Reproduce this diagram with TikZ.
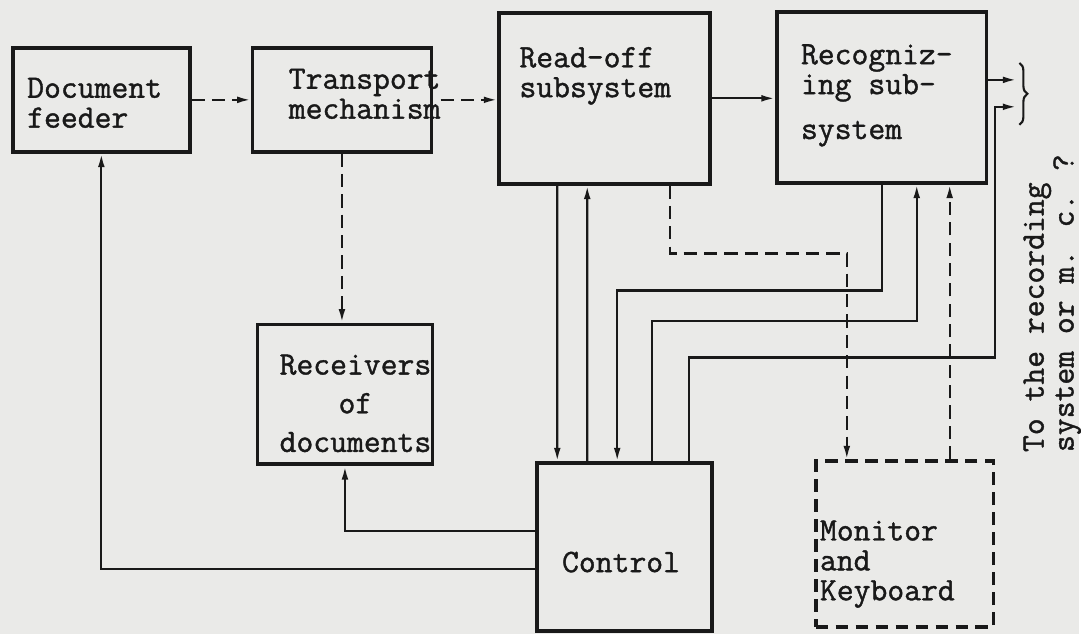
\documentclass[tikz,border=0pt]{standalone}
\usepackage{fontspec}
\newfontfamily\typewriter[FakeBold=1.2]{Latin Modern Mono}
\usetikzlibrary{arrows.meta,decorations.pathreplacing}
\definecolor{paper}{RGB}{234,234,232}
\definecolor{ink}{RGB}{25,25,25}

\begin{document}
\begin{tikzpicture}[x=0.025cm,y=-0.025cm,
    box/.style={draw=ink,line width=2.6pt,inner sep=0pt},
    dbox/.style={box,dash pattern=on 3.2mm off 1.8mm},
    txt/.style={inner sep=0pt,align=left,text=ink,font=\typewriter\fontsize{23.3}{21.3}\selectfont},
    flow/.style={-{Latex[length=3.4mm,width=1.7mm]},line width=1.6pt,draw=ink},
    dflow/.style={flow,dash pattern=on 3.3mm off 1.8mm}
  ]
  \fill[paper] (0,0) rectangle (1081,635);
  % blocks
  \node[box,minimum width=4.425cm,minimum height=2.6cm] (feeder) at (101.5,100) {};
  \node[box,minimum width=4.475cm,minimum height=2.6cm] (transport) at (342.5,100) {};
  \node[box,minimum width=5.275cm,minimum height=4.275cm] (readoff) at (605.5,98.5) {};
  \node[box,minimum width=5.25cm,minimum height=4.275cm] (recog) at (883,97.5) {};
  \node[box,minimum width=4.375cm,minimum height=3.5cm] (receivers) at (345.5,395) {};
  \node[box,minimum width=4.375cm,minimum height=4.2cm] (control) at (625.5,548) {};
  \node[dbox,minimum width=4.45cm,minimum height=4.15cm] (monitor) at (906,545) {};
  % texts
  \node[txt,anchor=west] (feedertxt) at (27,103) {Document\\feeder};
  \node[txt,anchor=west] (transporttxt) at (289,94) {Transport\\mechanism};
  \node[txt,anchor=west] (readofftxt) at (520,76) {Read-off\\subsystem};
  \node[txt,anchor=west] (recogtxt) at (802,95.5) {Recogniz-\\ing sub-\\[0.375cm]system};
  \node[txt,align=center] (receiverstxt) at (356,404) {Receivers\\[0.22cm]of\\[0.22cm]documents};
  \node[txt] (controltxt) at (622,563) {Control};
  \node[txt,anchor=west] (monitortxt) at (821,565) {Monitor\\and\\Keyboard};
  \node[txt,rotate=90,anchor=west] (desttxt) at (1054,453) {To the recording\\system or m. c. ?};
  % outputs
  \coordinate (out1) at (1018,80);
  \coordinate (out2) at (1018,107);
  \draw[ink,line width=1.5pt,decorate,decoration={brace,amplitude=0.2cm}] (1021,63) -- (1021,125);
  % connectors
  \draw[dflow] (feeder) -- (transport);
  \draw[dflow] (transporttxt.east |- transport.east) -- (transport.east -| readoff.west);
  \draw[dflow] (transport.south) -- (transport.south |- receivers.north);
  \draw[flow] (readoff.east) -- (readoff.east -| recog.west);
  \draw[flow] (recog.east |- out1) -- (out1);
  \draw[flow] ([xshift=1.5cm]readoff.south west) -- ([xshift=0.55cm]control.north west);
  \draw[flow] ([xshift=1.3cm]control.north west) -- ([xshift=2.25cm]readoff.south west);
  \draw[dflow] ([xshift=4.325cm]readoff.south west) -- ++(0,68) -| ([xshift=0.825cm]monitor.north west);
  \draw[flow] ([xshift=2.675cm]recog.south west) -- ++(0,106) -| ([xshift=2.05cm]control.north west);
  \draw[flow] ([xshift=2.925cm]control.north west) -- ++(0,-141) -| ([xshift=3.55cm]recog.south west);
  \draw[flow] ([xshift=3.85cm]control.north west) -- ++(0,-104) -- ++(306,0) |- (out2);
  \draw[dflow] ([xshift=3.4cm]monitor.north west) -- ([xshift=3.4cm]monitor.north west |- recog.south);
  \draw[flow] ([yshift=0.4cm]control.west) -| (receivers.south);
  \draw[flow] ([yshift=-0.55cm]control.west) -| (feeder.south);
\end{tikzpicture}
\end{document}
